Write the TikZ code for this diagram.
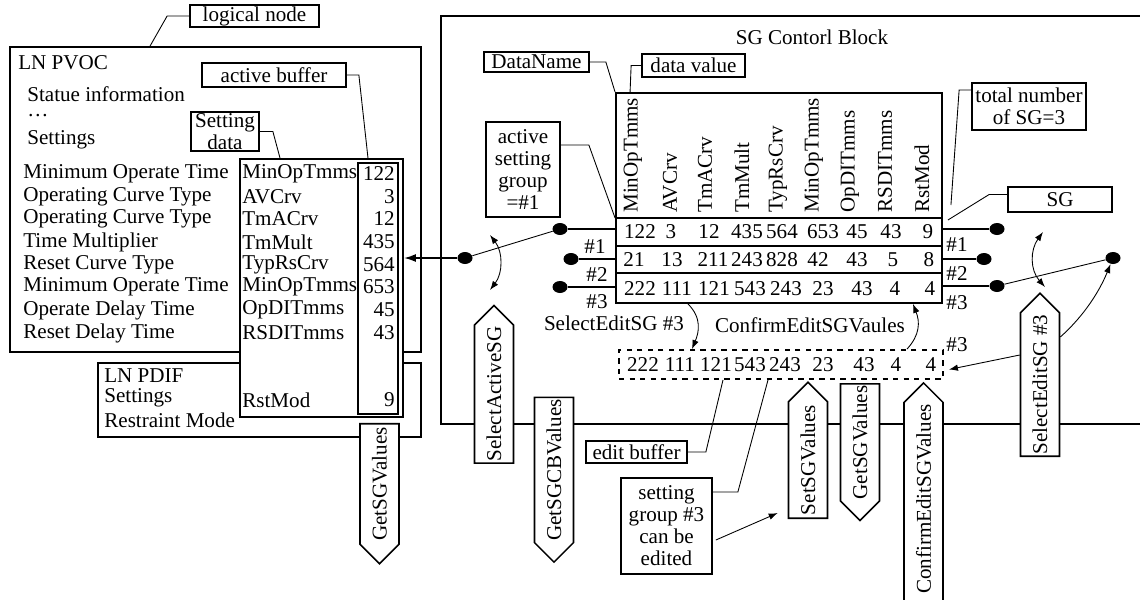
\documentclass[tikz,border=0pt]{standalone}
\usepackage{fontspec}
\setmainfont{Liberation Serif}
\usetikzlibrary{arrows.meta,shapes.symbols,shapes.geometric,positioning}

\begin{document}
\begin{tikzpicture}[x=0.02cm,y=-0.02cm,font=\fontsize{12}{12.5}\selectfont,
  box/.style={draw,line width=1.1pt,inner sep=0},
  tag/.style={draw,line width=1pt,fill=white,inner sep=1pt,align=center},
  lead/.style={line width=0.5pt},
  sw/.style={line width=1pt},
  dot/.style={ellipse,fill,inner sep=0,minimum width=0.3cm,minimum height=0.24cm},
  txt/.style={anchor=west,inner sep=0},
  sigup/.style={signal,signal to=east,draw,line width=0.9pt,fill=white,rotate=90,
    minimum height=0.78cm,inner sep=1pt},
  sigdown/.style={sigup,signal to=west}]
\useasboundingbox (0,0) rectangle (1140,599);
\clip (0,0) rectangle (1140,599);

% logical nodes
\node[box,minimum width=8.22cm,minimum height=6.1cm] (pvoc) at (215.5,199.5) {};
\node[box,minimum width=6.46cm,minimum height=1.48cm] (pdif) at (259.5,400) {};
\node[txt] (pvocname) at (18,63) {LN PVOC};
\node[txt] (status) at (27,94) {Statue information};
\node[anchor=base west,inner sep=0,text height=3pt,text depth=0pt] (dots) at (27,116) {…};
\node[txt] (settings) at (27,140) {Settings};
\foreach \y/\t in {174/Minimum Operate Time,197/Operating Curve Type,219/Operating Curve Type,
  242/Time Multiplier,265/Reset Curve Type,287/Minimum Operate Time,310/Operate Delay Time,
  333/Reset Delay Time}
  \node[txt] (desc\y) at (23,\y) {\t};
\node[txt] (pdifname) at (104,376) {LN PDIF};
\node[txt] (pdifset) at (104,398) {Settings};
\node[txt] (pdifrst) at (104,420) {Restraint Mode};

% setting data and active buffer
\node[box,fill=white,minimum width=3.26cm,minimum height=5.16cm] (setdata) at (321.5,288) {};
\node[box,minimum width=0.8cm,minimum height=5.02cm] (actbuf) at (378,288.5) {};
\foreach \y/\n/\v in {174/MinOpTmms/122,197/AVCrv/3,219/TmACrv/12,242/TmMult/435,
  265/TypRsCrv/564,287/MinOpTmms/653,310/OpDITmms/45,333/RSDITmms/43,400/RstMod/9}{
  \node[txt] (name\y) at (242,\y) {\n};
  \node[anchor=east,inner sep=0] (val\y) at (395,\y) {\v};
}
\node[sigdown,minimum width=2.8cm] (getl) at (379.5,484) {GetSGValues};

% SG control block
\draw[line width=1.1pt] (1200,16) -- (441,16) -- (441,424) -- (1200,424);
\node (sgcb) at (812,37) {SG Contorl Block};
\node[box,minimum width=6.52cm,minimum height=4.2cm] (table) at (779,198) {};
\draw[box] (table.west |- 0,218) coordinate (hl) -- (table.east |- 0,218) coordinate (hr);
\draw[box] (table.west |- 0,246) -- (table.east |- 0,246);
\draw[box] (table.west |- 0,273) -- (table.east |- 0,273);
\foreach \x/\n in {633/MinOpTmms,670/AVCrv,705/TmACrv,742/TmMult,778/TypRsCrv,
  814/MinOpTmms,850/OpDITmms,885/RSDITmms,922/RstMod}
  \node[rotate=90,anchor=west,inner sep=0] (head\x) at (\x,213) {\n};
\foreach \x/\v in {640/122,671/3,709/12,747/435,782/564,823/653,857/45,891/43,928/9}
  \node (a\x) at (\x,232) {\v};
\foreach \x/\v in {634/21,672/13,713/211,747/243,782/828,818/42,857/43,893/5,929/8}
  \node (b\x) at (\x,260) {\v};
\foreach \x/\v in {640/222,677/111,714/121,750/543,786/243,823/23,862/43,895/4,930/4}
  \node (c\x) at (\x,289) {\v};

% edit buffer
\node[box,dashed,minimum width=6.48cm,minimum height=0.58cm] (editbuf) at (781,364.5) {};
\foreach \x/\v in {643/222,680/111,716/121,750/543,785/243,823/23,864/43,896/4,931/4}
  \node (e\x) at (\x,365) {\v};
\node (seltxt) at (614,323) {SelectEditSG \#3};
\node (conftxt) at (810,325) {ConfirmEditSGVaules};
\draw[lead,-{Latex[length=1.8mm,width=1.3mm]}] (table.south -| 688,0) .. controls (702,318) and (699,332) .. (editbuf.north -| 692,0);
\draw[lead,-{Latex[length=1.8mm,width=1.3mm]}] (editbuf.north -| 907,0) .. controls (920,335) and (920,322) .. (table.south -| 913,0);

% left switch
\node[dot] (l1) at (560,229) {};
\node[dot] (l2) at (571,259) {};
\node[dot] (l3) at (560,287) {};
\node[dot] (lp) at (465,258) {};
\draw[sw] (l1) -- (table.west |- l1);
\draw[sw] (l2) -- (table.west |- l2);
\draw[sw] (l3) -- (table.west |- l3);
\draw[lead] (lp) -- (l1);
\draw[sw,-{Latex[length=2.4mm,width=1.6mm]}] (lp) -- (setdata.east |- lp);
\node (ln1) at (595,247) {\#1};
\node (ln2) at (597,275) {\#2};
\node (ln3) at (597,302) {\#3};
\draw[lead,{Latex[length=1.8mm,width=1.3mm]}-{Latex[length=1.8mm,width=1.3mm]}] (490,235) .. controls (503,252) and (503,273) .. (490,290);

% right switch
\node[dot] (r1) at (997,229) {};
\node[dot] (r2) at (984,259) {};
\node[dot] (r3) at (997,286) {};
\node[dot] (rp) at (1113,258) {};
\draw[sw] (table.east |- r1) -- (r1);
\draw[sw] (table.east |- r2) -- (r2);
\draw[sw] (table.east |- r3) -- (r3);
\draw[lead] (r3) -- (rp);
\node (rn1) at (957,245) {\#1};
\node (rn2) at (957,274) {\#2};
\node (rn3) at (957,303) {\#3};
\node (en3) at (957,345) {\#3};
\draw[lead,{Latex[length=1.8mm,width=1.3mm]}-{Latex[length=1.8mm,width=1.3mm]}] (1043,232) .. controls (1030,250) and (1030,270) .. (1045,287);

% services
\node[sigup,minimum width=3.08cm] (selact) at (494,394) {SelectActiveSG};
\node[sigdown,minimum width=3.24cm] (getcb) at (554,470) {GetSGCBValues};
\node[sigup,minimum width=2.72cm] (setsg) at (808,460) {SetSGValues};
\node[sigdown,minimum width=2.62cm] (getsg) at (860,442.5) {GetSGValues};
\node[sigup,minimum width=4.3cm] (confsg) at (923.5,505) {\hspace{0.24cm}ConfirmEditSGValues};
\node[sigup,minimum width=2.98cm] (selsg) at (1040,384.5) {SelectEditSG \#3};
\draw[lead,-{Latex[length=1.8mm,width=1.3mm]}] ([yshift=0.95cm]selsg.south) .. controls (1085,315) and (1100,290) .. (rp);
\draw[lead,-{Latex[length=1.8mm,width=1.3mm]}] ([yshift=0.59cm]selsg.north) -- ([xshift=0.1cm,yshift=-0.1cm]editbuf.east);

% callouts
\node[tag,minimum width=2.58cm,minimum height=0.44cm] (lognode) at (254.5,16) {logical node};
\draw[lead] (lognode.west) -- ++(-22,0) -- ([xshift=2.82cm]pvoc.north west);
\node[tag,minimum width=2.88cm,minimum height=0.48cm] (actbufl) at (274,75) {active buffer};
\draw[lead] (actbufl.east) -- ++(12,0) -- ([xshift=0.93cm]setdata.north);
\node[tag,minimum width=1.36cm,minimum height=0.78cm] (setdl) at (225,131.5) {Setting\\data};
\draw[lead] (setdl.east) -- ++(13,0) -- ([xshift=-0.83cm]setdata.north);
\node[tag,minimum width=2.1cm,minimum height=0.4cm] (dnamel) at (536.5,62) {DataName};
\draw[lead] (dnamel.east) -- ++(16,0) -- (table.north west);
\node[tag,minimum width=2.06cm,minimum height=0.46cm] (dvall) at (693.5,65.5) {data value};
\draw[lead] (dvall.west) -- ++(-10,0) -- ([xshift=0.3cm]table.north west);
\node[tag,minimum width=1.48cm,minimum height=1.9cm] (asgl) at (523,169.5) {active\\setting\\group\\=\#1};
\draw[lead] ([yshift=0.49cm]asgl.east) -- ++(28,0) -- (hl);
\node[tag,minimum width=2.28cm,minimum height=0.94cm] (totl) at (1029,106.5) {total number\\of SG=3};
\draw[lead] ([yshift=0.33cm]totl.west) -- ++(-12,0) -- ([shift={(8,-13)}]hr);
\node[tag,minimum width=2.08cm,minimum height=0.5cm] (sgl) at (1060,199.5) {SG};
\draw[lead] ([yshift=0.1cm]sgl.west) -- ++(-18,0) -- ([shift={(5,2)}]hr);
\node[tag,minimum width=2.02cm,minimum height=0.44cm] (ebl) at (636.5,452) {edit buffer};
\draw[lead] (ebl.east) -- ++(18,0) -- (editbuf.south -| 723,0);
\node[tag,minimum width=1.82cm,minimum height=1.92cm] (canl) at (666.5,526) {setting\\group \#3\\can be\\edited};
\draw[lead] ([yshift=0.68cm]canl.east) -- ++(25,0) -- (editbuf.south -| 768,0);
\draw[lead,-{Latex[length=1.8mm,width=1.3mm]}] ([shift={(3,14)}]canl.east) -- ([shift={(-10,53)}]setsg.north);
\end{tikzpicture}
\end{document}
